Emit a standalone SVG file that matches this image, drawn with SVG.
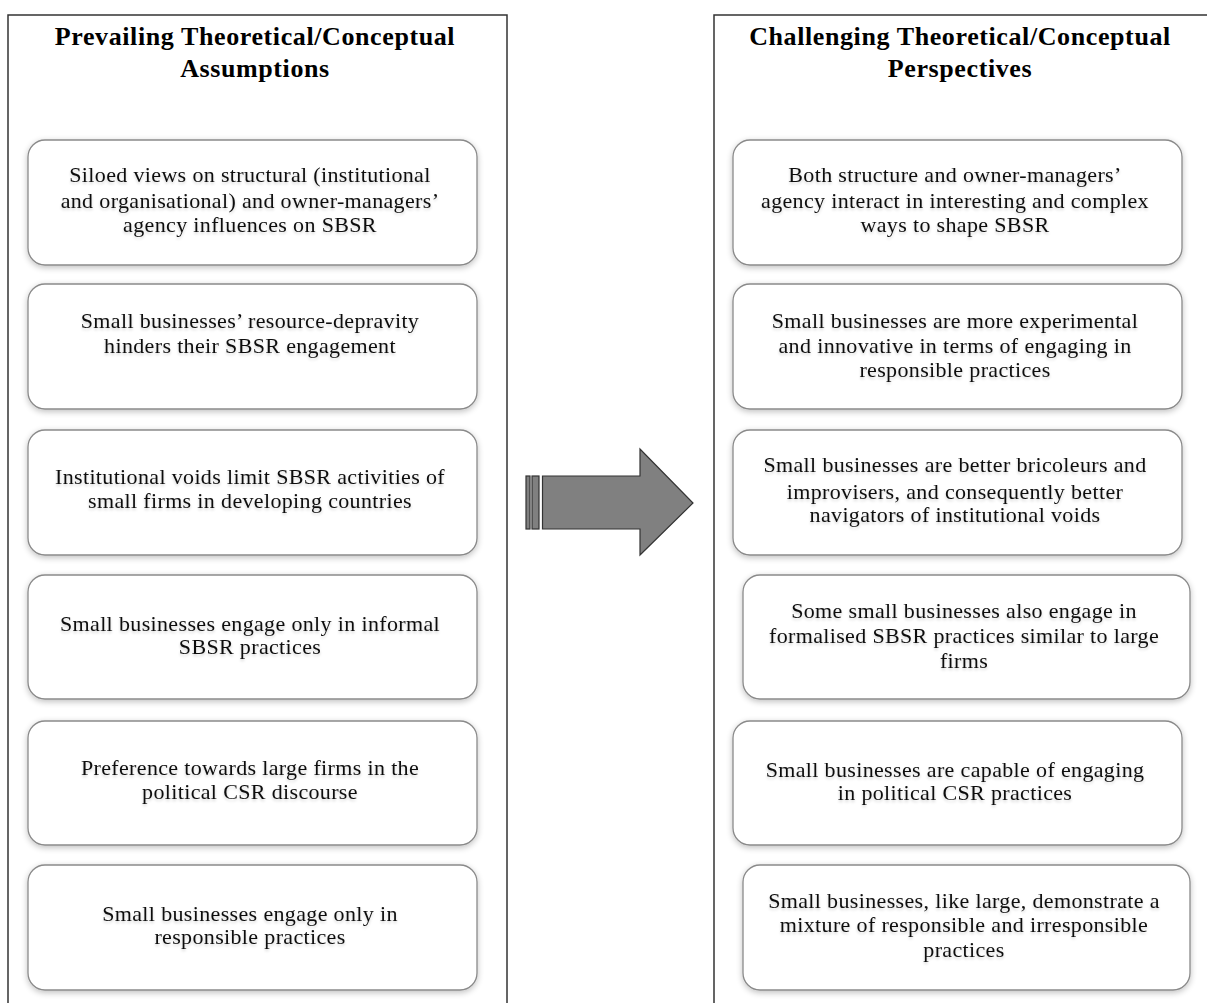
<svg xmlns="http://www.w3.org/2000/svg" width="1207" height="1003" viewBox="0 0 1207 1003">
<defs>
<filter id="sh" x="-10%" y="-10%" width="120%" height="125%">
<feGaussianBlur in="SourceAlpha" stdDeviation="3"/>
<feOffset dx="0" dy="2" result="b"/>
<feComponentTransfer><feFuncA type="linear" slope="0.25"/></feComponentTransfer>
<feMerge><feMergeNode/><feMergeNode in="SourceGraphic"/></feMerge>
</filter>
<filter id="tsh" x="-5%" y="-30%" width="110%" height="160%">
<feGaussianBlur in="SourceAlpha" stdDeviation="1.5"/>
<feOffset dx="0" dy="1.5"/>
<feComponentTransfer><feFuncA type="linear" slope="0.18"/></feComponentTransfer>
<feMerge><feMergeNode/><feMergeNode in="SourceGraphic"/></feMerge>
</filter>
</defs>
<style>
.panel{fill:#fff;stroke:#333;stroke-width:1.5}
.box{fill:#fff;stroke:#8a8a8a;stroke-width:1.3;filter:url(#sh)}
.t{font-family:"Liberation Serif","Times New Roman",serif;font-size:22px;letter-spacing:0.35px;fill:#111;text-anchor:middle;filter:url(#tsh)}
.h{font-family:"Liberation Serif","Times New Roman",serif;font-size:26px;letter-spacing:0.6px;font-weight:bold;fill:#000;text-anchor:middle}
.arrow{fill:#808080;stroke:#333;stroke-width:1.2;stroke-linejoin:miter}
</style>
<rect width="1207" height="1003" fill="#fff"/>
<g id="panel-left">
<rect class="panel" x="8" y="15" width="499" height="1000"/>
<text class="h" x="255" y="45">Prevailing Theoretical/Conceptual</text>
<text class="h" x="255" y="77">Assumptions</text>
</g>
<g id="panel-right">
<rect class="panel" x="714" y="15" width="500" height="1000"/>
<text class="h" x="960" y="45">Challenging Theoretical/Conceptual</text>
<text class="h" x="960" y="77">Perspectives</text>
</g>
<g id="L1"><rect class="box" x="28" y="140" width="449" height="125" rx="17"/>
<text class="t" x="250" y="182">Siloed views on structural (institutional</text>
<text class="t" x="250" y="208">and organisational) and owner-managers’</text>
<text class="t" x="250" y="232">agency influences on SBSR</text></g>
<g id="L2"><rect class="box" x="28" y="284" width="449" height="125" rx="17"/>
<text class="t" x="250" y="328">Small businesses’ resource-depravity</text>
<text class="t" x="250" y="353">hinders their SBSR engagement</text></g>
<g id="L3"><rect class="box" x="28" y="430" width="449" height="125" rx="17"/>
<text class="t" x="250" y="484">Institutional voids limit SBSR activities of</text>
<text class="t" x="250" y="508">small firms in developing countries</text></g>
<g id="L4"><rect class="box" x="28" y="575" width="449" height="124" rx="17"/>
<text class="t" x="250" y="631">Small businesses engage only in informal</text>
<text class="t" x="250" y="654">SBSR practices</text></g>
<g id="L5"><rect class="box" x="28" y="721" width="449" height="124" rx="17"/>
<text class="t" x="250" y="775">Preference towards large firms in the</text>
<text class="t" x="250" y="799">political CSR discourse</text></g>
<g id="L6"><rect class="box" x="28" y="865" width="449" height="125" rx="17"/>
<text class="t" x="250" y="921">Small businesses engage only in</text>
<text class="t" x="250" y="944">responsible practices</text></g>
<g id="R1"><rect class="box" x="733" y="140" width="449" height="125" rx="17"/>
<text class="t" x="955" y="182">Both structure and owner-managers’</text>
<text class="t" x="955" y="208">agency interact in interesting and complex</text>
<text class="t" x="955" y="232">ways to shape SBSR</text></g>
<g id="R2"><rect class="box" x="733" y="284" width="449" height="125" rx="17"/>
<text class="t" x="955" y="328">Small businesses are more experimental</text>
<text class="t" x="955" y="353">and innovative in terms of engaging in</text>
<text class="t" x="955" y="377">responsible practices</text></g>
<g id="R3"><rect class="box" x="733" y="430" width="449" height="125" rx="17"/>
<text class="t" x="955" y="472">Small businesses are better bricoleurs and</text>
<text class="t" x="955" y="499">improvisers, and consequently better</text>
<text class="t" x="955" y="522">navigators of institutional voids</text></g>
<g id="R4"><rect class="box" x="743" y="575" width="447" height="124" rx="17"/>
<text class="t" x="964" y="618">Some small businesses also engage in</text>
<text class="t" x="964" y="643">formalised SBSR practices similar to large</text>
<text class="t" x="964" y="668">firms</text></g>
<g id="R5"><rect class="box" x="733" y="721" width="449" height="124" rx="17"/>
<text class="t" x="955" y="777">Small businesses are capable of engaging</text>
<text class="t" x="955" y="800">in political CSR practices</text></g>
<g id="R6"><rect class="box" x="743" y="865" width="447" height="125" rx="17"/>
<text class="t" x="964" y="908">Small businesses, like large, demonstrate a</text>
<text class="t" x="964" y="932">mixture of responsible and irresponsible</text>
<text class="t" x="964" y="957">practices</text></g>
<g id="connectors">
<rect class="arrow" x="526" y="476" width="4" height="53"/>
<rect class="arrow" x="532" y="476" width="7" height="53"/>
<path class="arrow" d="M542.5 476 H640 V449 L693 503 L640 555 V529 H542.5 Z"/>
</g>
</svg>
